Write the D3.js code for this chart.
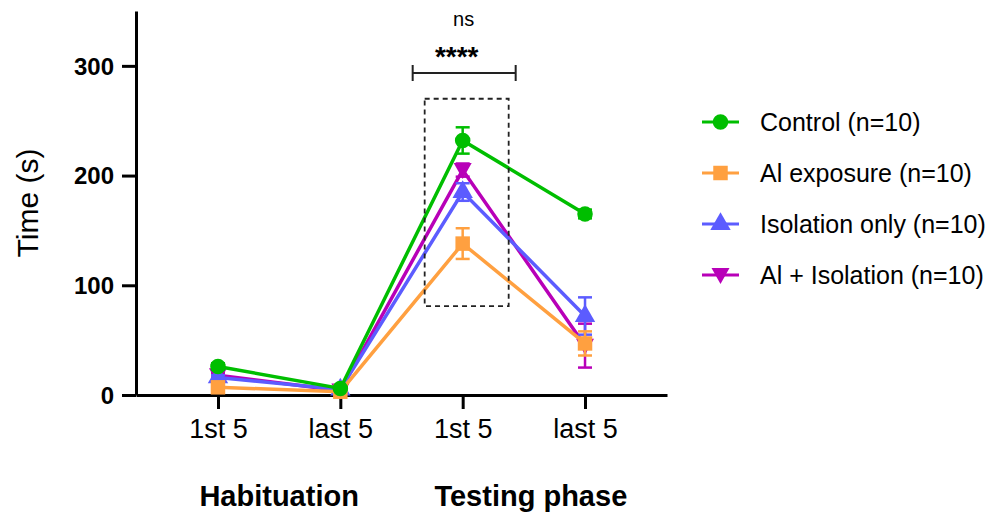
<!DOCTYPE html>
<html lang="en">
<head>
    <meta charset="UTF-8">
    <script src="https://cdn.jsdelivr.net/npm/d3@7"></script>
    <title>Time (s)</title>
    <style>
        body { margin: 0; background: white; }
        text { font-family: 'Liberation Sans', Arial, sans-serif; fill: #000; }
        .axis path, .axis line { stroke: #000; stroke-width: 3px; }
    </style>
</head>
<body>
<div id="chart"></div>
<script>
    // data
    const phases = ["hab1", "hab2", "test1", "test2"];
    const tickLabels = ["1st 5", "last 5", "1st 5", "last 5"];
    const groupLabels = ["Habituation", "Testing phase"];
    const seriesNames = ["Control (n=10)", "Al exposure (n=10)", "Isolation only (n=10)", "Al + Isolation (n=10)"];
    const controlMean = [26, 6, 232, 165];
    const controlErr = [3, 1, 12, 4];
    const alMean = [7, 3, 138, 47];
    const alErr = [2, 1, 14, 11];
    const isoMean = [16, 5, 185, 72];
    const isoErr = [2, 1, 8, 17];
    const alIsoMean = [18, 4, 205, 45];
    const alIsoErr = [2, 1, 6, 20];
    const yTicks = [0, 100, 200, 300];

    const width = 992, height = 517;
    const svg = d3.select("#chart").append("svg")
        .attr("width", width)
        .attr("height", height);

    const x = d3.scalePoint().domain(phases).range([136, 667]).padding(0.67);
    const y = d3.scaleLinear().domain([0, 350]).range([395, 11]);

    const series = [
        {name: seriesNames[3], mean: alIsoMean, err: alIsoErr, color: "#b800b8", shape: "down"},
        {name: seriesNames[2], mean: isoMean, err: isoErr, color: "#5c5cff", shape: "up"},
        {name: seriesNames[1], mean: alMean, err: alErr, color: "#ffa040", shape: "square"},
        {name: seriesNames[0], mean: controlMean, err: controlErr, color: "#00be00", shape: "circle"}
    ];

    const markerPath = (shape) => {
        if (shape === "circle") return d3.symbol(d3.symbolCircle, 190)();
        if (shape === "square") return d3.symbol(d3.symbolSquare, 210)();
        if (shape === "up") return d3.symbol(d3.symbolTriangle, 180)();
        return "M-9,-7L9,-7L0,9Z";
    };

    // axes
    svg.append("g")
        .attr("class", "axis")
        .attr("transform", "translate(136,0)")
        .call(d3.axisLeft(y).tickValues(yTicks).tickSize(14).tickSizeOuter(0).tickPadding(8))
        .call(g => g.selectAll("text")
            .style("font-size", "24px")
            .style("font-weight", "bold")
            .attr("dy", "0.35em"));

    svg.append("g")
        .attr("class", "axis")
        .attr("transform", "translate(0,395)")
        .call(d3.axisBottom(x).tickSize(14).tickSizeOuter(0).tickPadding(10)
            .tickFormat((d, i) => tickLabels[i]))
        .call(g => g.selectAll("text")
            .style("font-size", "27px"));

    // group labels
    svg.selectAll(".group")
        .data(groupLabels)
        .enter()
        .append("text")
        .attr("x", (d, i) => (x(phases[i * 2]) + x(phases[i * 2 + 1])) / 2 + (i === 1 ? 7 : 0))
        .attr("y", 506)
        .attr("text-anchor", "middle")
        .style("font-size", "29px")
        .style("font-weight", "bold")
        .text(d => d);

    // y label
    svg.append("text")
        .attr("transform", "translate(38," + y(175) + ") rotate(-90)")
        .attr("text-anchor", "middle")
        .style("font-size", "30px")
        .text("Time (s)");

    // series
    const line = d3.line().x((d, i) => x(phases[i])).y(d => y(d));
    series.forEach(s => {
        const g = svg.append("g");
        g.append("path")
            .attr("d", line(s.mean))
            .attr("fill", "none")
            .attr("stroke", s.color)
            .attr("stroke-width", 3.5);
        s.mean.forEach((m, i) => {
            const cx = x(phases[i]);
            g.append("line")
                .attr("x1", cx).attr("x2", cx)
                .attr("y1", y(m - s.err[i])).attr("y2", y(m + s.err[i]))
                .attr("stroke", s.color).attr("stroke-width", 2.5);
            [m - s.err[i], m + s.err[i]].forEach(v => {
                g.append("line")
                    .attr("x1", cx - 7).attr("x2", cx + 7)
                    .attr("y1", y(v)).attr("y2", y(v))
                    .attr("stroke", s.color).attr("stroke-width", 2.5);
            });
            g.append("path")
                .attr("d", markerPath(s.shape))
                .attr("transform", `translate(${cx},${y(m)})`)
                .attr("fill", s.color);
        });
    });

    // annotations
    const tx = x("test1");
    svg.append("rect")
        .attr("x", tx - 38).attr("y", y(270))
        .attr("width", 84).attr("height", y(81) - y(270))
        .attr("fill", "none")
        .attr("stroke", "#222")
        .attr("stroke-width", 1.8)
        .attr("stroke-dasharray", "5,4");
    const by = y(293.5);
    svg.append("path")
        .attr("d", `M${tx - 50},${by - 8}V${by + 8}M${tx - 50},${by}H${tx + 53}M${tx + 53},${by - 8}V${by + 8}`)
        .attr("fill", "none")
        .attr("stroke", "#222")
        .attr("stroke-width", 2);
    svg.append("text")
        .attr("x", tx - 6).attr("y", 66)
        .attr("text-anchor", "middle")
        .style("font-size", "28px")
        .style("font-weight", "bold")
        .text("****");
    svg.append("text")
        .attr("x", tx + 1).attr("y", 26)
        .attr("text-anchor", "middle")
        .style("font-size", "20px")
        .text("ns");

    // legend
    const legendOrder = series.slice().reverse();
    const legend = svg.append("g").attr("transform", "translate(702,122)");
    legendOrder.forEach((s, i) => {
        const row = legend.append("g").attr("transform", `translate(0,${i * 51})`);
        row.append("line")
            .attr("x1", 0).attr("x2", 37)
            .attr("stroke", s.color).attr("stroke-width", 3.2);
        row.append("path")
            .attr("d", markerPath(s.shape))
            .attr("transform", "translate(18.5,0)")
            .attr("fill", s.color);
        row.append("text")
            .attr("x", 58).attr("dy", "0.35em")
            .style("font-size", "25px")
            .text(s.name);
    });
</script>
</body>
</html>
